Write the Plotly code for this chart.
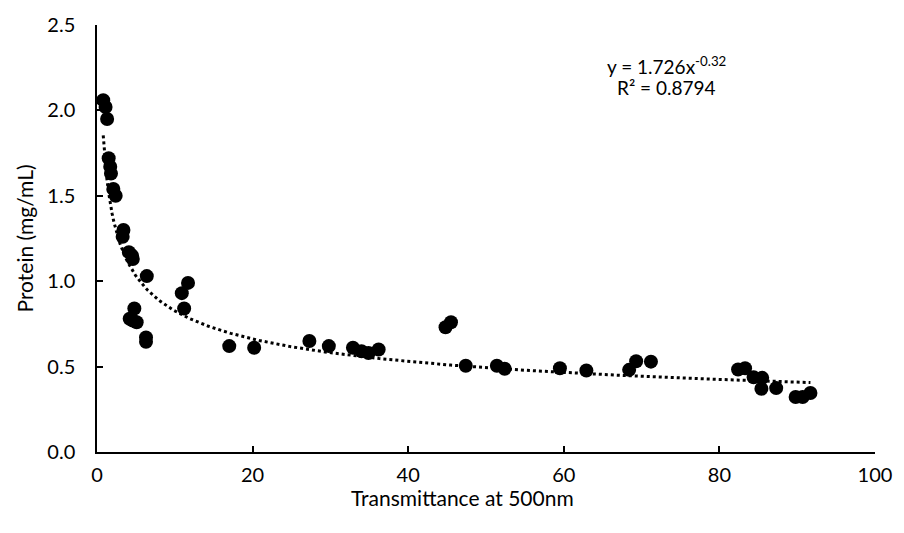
import numpy as np
import plotly.graph_objects as go

# Transmittance (%) and measured protein concentration
transmittance = [0.8, 1.1, 1.3, 1.5, 1.7, 1.8, 2.1, 2.4, 3.4, 3.3, 4.1, 4.5, 4.6,
                 6.4, 4.8, 4.6, 4.2, 5.1, 6.3, 6.3, 11.7, 10.9, 11.2,
                 17.0, 20.2, 27.3, 29.8, 32.9, 34.0, 34.9, 36.2, 44.8, 45.5,
                 47.4, 51.4, 52.4, 59.5, 62.9, 68.4, 69.3, 71.2,
                 82.4, 83.3, 84.4, 85.5, 85.4, 87.3, 89.8, 90.7, 91.7]
protein = [2.06, 2.02, 1.95, 1.72, 1.67, 1.63, 1.54, 1.50, 1.30, 1.26, 1.17, 1.15, 1.13,
           1.03, 0.84, 0.77, 0.78, 0.76, 0.67, 0.645, 0.99, 0.93, 0.84,
           0.62, 0.61, 0.65, 0.62, 0.61, 0.59, 0.58, 0.60, 0.73, 0.76,
           0.505, 0.505, 0.487, 0.49, 0.477, 0.481, 0.531, 0.529,
           0.483, 0.49, 0.438, 0.434, 0.37, 0.374, 0.322, 0.322, 0.345]

# Power trendline y = a * x^b
coef_a = 1.726
coef_b = -0.32
r_squared = 0.8794

x_fit = np.linspace(min(transmittance), max(transmittance), 400)
y_fit = coef_a * x_fit ** coef_b

font_family = "Lato, 'Open Sans', sans-serif"
W, H = 904, 533

fig = go.Figure()
fig.add_trace(go.Scatter(
    x=x_fit, y=y_fit, mode="lines",
    line=dict(color="black", width=3, dash="dot"),
    hoverinfo="skip", showlegend=False,
))
fig.add_trace(go.Scatter(
    x=transmittance, y=protein, mode="markers",
    marker=dict(color="black", size=14, line=dict(width=0)),
    showlegend=False,
))

# Trendline equation and fit quality
fig.add_annotation(
    x=73.2, y=2.265, xref="x", yref="y",
    text=f"y = {coef_a}x<sup>{coef_b}</sup>",
    showarrow=False, font=dict(size=19, color="black", family=font_family),
)
fig.add_annotation(
    x=73.2, y=2.135, xref="x", yref="y",
    text=f"R² = {r_squared}",
    showarrow=False, font=dict(size=19, color="black", family=font_family),
)

# Axis titles placed relative to the whole chart area
fig.add_annotation(
    x=465 / W, y=1 - 498 / H, xref="paper", yref="paper",
    xanchor="center", yanchor="middle", yshift=0,
    text="Transmittance at 500nm", showarrow=False,
    font=dict(size=21, color="black", family=font_family),
)
fig.update_layout(
    width=W, height=H,
    margin=dict(l=97, r=24, t=22, b=81),
    paper_bgcolor="white", plot_bgcolor="white",
    font=dict(family=font_family, size=20, color="black"),
    xaxis=dict(
        range=[0, 100], tickvals=[0, 20, 40, 60, 80, 100],
        ticks="inside", ticklen=6, tickwidth=1.5, tickcolor="black",
        showline=True, linecolor="black", linewidth=1.5,
        showgrid=False, zeroline=False, ticklabelstandoff=4,
    ),
    yaxis=dict(
        range=[0, 2.5], tickvals=[0, 0.5, 1.0, 1.5, 2.0, 2.5], tickformat=".1f",
        ticks="inside", ticklen=6, tickwidth=1.5, tickcolor="black",
        showline=True, linecolor="black", linewidth=1.5,
        showgrid=False, zeroline=False, ticklabelstandoff=16,
        title=dict(text="Protein (mg/mL)", standoff=8, font=dict(size=21)),
    ),
)

# Paper-referenced annotation coordinates are relative to the plot area
px0, px1 = 97, W - 24
py0, py1 = 22, H - 81
fig.layout.annotations[-1].update(
    x=(465 - px0) / (px1 - px0),
    y=(py1 - 498) / (py1 - py0),
)

fig.write_html("out.html")
